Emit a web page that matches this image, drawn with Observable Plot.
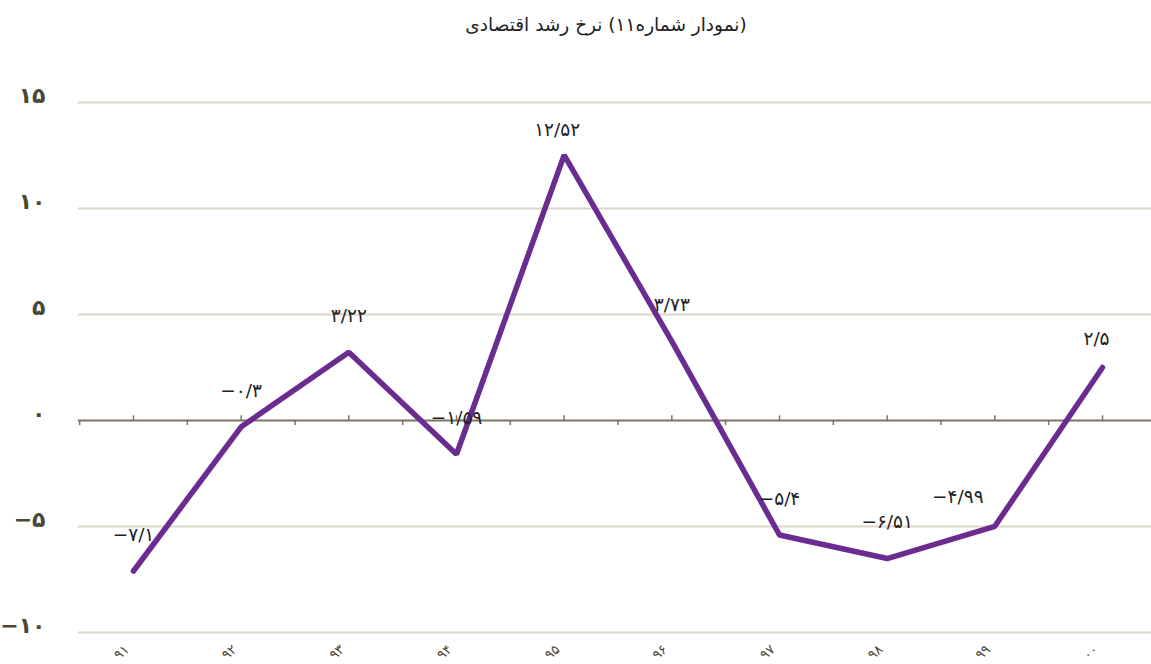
<!DOCTYPE html>
<html><head><meta charset="utf-8">
<script src="https://cdn.jsdelivr.net/npm/d3@7"></script>
<script src="https://cdn.jsdelivr.net/npm/@observablehq/plot@0.6"></script>
<style>
body{margin:0;background:#fff;font-family:"DejaVu Sans",sans-serif;overflow:hidden;}
#title{height:45px;line-height:50px;font-size:18.5px;color:#222;text-align:center;padding-left:61px;box-sizing:border-box;width:1151px;}
</style></head><body>
<div id="title" dir="rtl">(نمودار شماره۱۱) نرخ رشد اقتصادی</div>
<div id="chart"></div>
<script>
const years = ["۹۱","۹۲","۹۳","۹۴","۹۵","۹۶","۹۷","۹۸","۹۹","۰۰"];
const growth = [-7.1, -0.3, 3.22, -1.59, 12.52, 3.73, -5.4, -6.51, -4.99, 2.5];
const growthLabels = ["−۷/۱","−۰/۳","۳/۲۲","−۱/۵۹","۱۲/۵۲","۳/۷۳","−۵/۴","−۶/۵۱","−۴/۹۹","۲/۵"];
const yTicks = [-10, -5, 0, 5, 10, 15];
const yTickLabels = ["−۱۰","−۵","۰","۵","۱۰","۱۵"];

const data = years.map((y, i) => ({i, year: y, value: growth[i], label: growthLabels[i]}));
const boundaries = d3.range(-0.5, years.length - 1, 1);
const centers = d3.range(years.length);
const gridTicks = yTicks.filter(t => t !== 0);

const special = {4: [-7, -25], 8: [-37, -29], 9: [-6, -28]};
const normal = data.filter(d => !(d.i in special));

const marks = [
  Plot.ruleY(gridTicks, {stroke: "#dcd6cc", strokeWidth: 2}),
  Plot.ruleY([0], {stroke: "#7d7263", strokeWidth: 2}),
  Plot.ruleX(boundaries, {x: d => d, y1: 0, y2: -0.24, stroke: "#7d7263", strokeWidth: 1.5}),
  Plot.ruleX(centers, {x: d => d, y1: 0, y2: 0.22, stroke: "#7d7263", strokeWidth: 1.5}),
  Plot.axisY({ticks: yTicks, tickSize: 0, tickPadding: 33, dy: -7, tickFormat: d => yTickLabels[yTicks.indexOf(d)], fontSize: 22, fontWeight: "bold", fill: "#4b4736", label: null}),
  Plot.line(data, {x: "i", y: "value", stroke: "#6a2c91", strokeWidth: 5.5, strokeLinecap: "round", strokeLinejoin: "miter"}),
  Plot.text(normal, {x: "i", y: "value", text: "label", dy: -36, fontSize: 18.5, fill: "#222"}),
  ...Object.entries(special).map(([k, [dx, dy]]) =>
    Plot.text(data.filter(d => d.i === +k), {x: "i", y: "value", text: "label", dx, dy, fontSize: 18.5, fill: "#222"})),
  Plot.text(data, {x: "i", text: "year", frameAnchor: "bottom", dx: -9, dy: 23, rotate: -42, fontSize: 13.5, fill: "#4b4736"})
];

const chart = Plot.plot({
  width: 1151,
  height: 619,
  marginLeft: 78,
  marginRight: 0,
  marginTop: 57,
  marginBottom: 32,
  style: {fontFamily: "DejaVu Sans, sans-serif", background: "#fff"},
  x: {domain: [0, 9], insetLeft: 55, insetRight: 49, axis: null},
  y: {domain: [-10, 15]},
  marks
});
document.getElementById("chart").appendChild(chart);
</script>
</body></html>
